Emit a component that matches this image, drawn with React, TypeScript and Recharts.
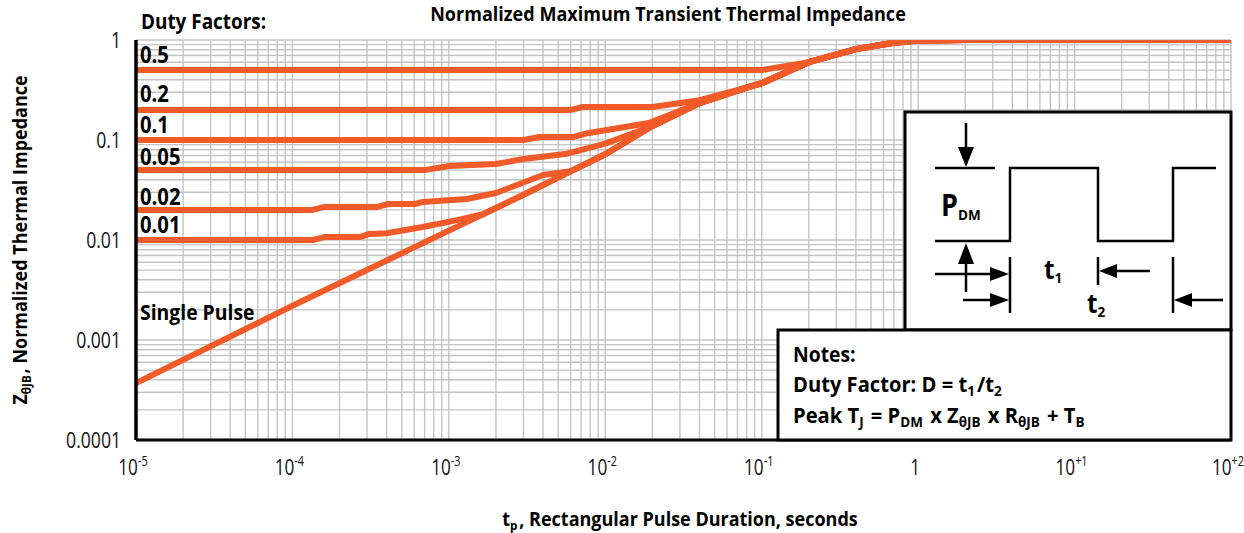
import React from "react";
import { LineChart, Line, XAxis, YAxis, CartesianGrid } from "recharts";

const ORANGE = "#f15a29";
const FONT = "'Open Sans', sans-serif";

// single pulse curve (t in seconds, Z normalized)
const spT = [1e-5, 1e-4, 1e-3, 3e-3, 6e-3, 1e-2, 2e-2, 4e-2, 8.1e-2, 0.1, 0.2, 0.4, 0.7, 1, 2, 100];
const spZ = [3.7e-4, 0.0022, 0.0124, 0.0283, 0.0486, 0.072, 0.138, 0.234, 0.336, 0.37, 0.6, 0.81, 0.94, 0.99, 1, 1];

// duty factor curves, up to where they join the single pulse curve
const d50T = [1e-5, 0.1, 0.2];
const d50Z = [0.5, 0.5, 0.6];
const d20T = [1e-5, 0.006, 0.0072, 0.02, 0.04, 0.081];
const d20Z = [0.2, 0.2, 0.214, 0.214, 0.25, 0.336];
const d10T = [1e-5, 0.003, 0.0038, 0.0062, 0.0077, 0.019, 0.04];
const d10Z = [0.1, 0.1, 0.107, 0.107, 0.117, 0.148, 0.234];
const d05T = [1e-5, 0.0007, 0.001, 0.002, 0.003, 0.0057, 0.01, 0.02];
const d05Z = [0.05, 0.05, 0.055, 0.0575, 0.0646, 0.073, 0.092, 0.138];
const d02T = [1e-5, 1.35e-4, 1.6e-4, 3.5e-4, 4.1e-4, 6.1e-4, 6.8e-4, 1.3e-3, 2e-3, 4e-3, 6e-3];
const d02Z = [0.02, 0.02, 0.0214, 0.0214, 0.0229, 0.0229, 0.024, 0.0257, 0.0295, 0.0447, 0.0486];
const d01T = [1e-5, 1.35e-4, 1.6e-4, 2.7e-4, 3.1e-4, 4e-4, 6.8e-4, 1.13e-3, 1.65e-3];
const d01Z = [0.01, 0.01, 0.0107, 0.0107, 0.0115, 0.0117, 0.0135, 0.0158, 0.0181];

// axes
const xDecades = [1e-5, 1e-4, 1e-3, 1e-2, 1e-1, 1, 10, 100];
const xBase = ["10", "10", "10", "10", "10", "1", "10", "10"];
const xSup = ["-5", "-4", "-3", "-2", "-1", "", "+1", "+2"];
const yDecades = [1e-4, 1e-3, 1e-2, 1e-1, 1];
const yLabels = ["0.0001", "0.001", "0.01", "0.1", "1"];

const minors = (decades: number[]) => {
  const out: number[] = [];
  decades.forEach((d, i) => {
    if (i === decades.length - 1) out.push(d);
    else for (let m = 1; m <= 9; m++) out.push(m * d);
  });
  return out;
};
const xTicks = minors(xDecades);
const yTicks = minors(yDecades);

const toPts = (t: number[], z: number[]) => t.map((v, i) => ({ t: v, z: z[i] }));
const single = toPts(spT, spZ);
const withTail = (t: number[], z: number[]) => {
  const last = t[t.length - 1];
  return [...toPts(t, z), ...single.filter((p) => p.t > last * 1.0001)];
};
const series = [
  withTail(d50T, d50Z),
  withTail(d20T, d20Z),
  withTail(d10T, d10Z),
  withTail(d05T, d05Z),
  withTail(d02T, d02Z),
  withTail(d01T, d01Z),
  single,
];

const near = (a: number, b: number) => Math.abs(Math.log10(a) - Math.log10(b)) < 1e-6;

const XTick = (props: any) => {
  const { x, y, payload } = props;
  const i = xDecades.findIndex((d) => near(d, payload.value));
  if (i < 0) return <g />;
  const tx = x - 3;
  return (
    <text x={tx} y={y + 35} textAnchor="middle" fontFamily={FONT} fontSize={22} fill="#111"
      transform={`translate(${tx} 0) scale(0.78 1) translate(${-tx} 0)`}>
      {xBase[i]}
      {xSup[i] && <tspan fontSize={14} dy={-9}>{xSup[i]}</tspan>}
    </text>
  );
};

const YTick = (props: any) => {
  const { x, y, payload } = props;
  const i = yDecades.findIndex((d) => near(d, payload.value));
  if (i < 0) return <g />;
  const tx = x - 15;
  return (
    <text x={tx} y={y + 8} textAnchor="end" fontFamily={FONT} fontSize={22} fill="#111"
      transform={`translate(${tx} 0) scale(0.8 1) translate(${-tx} 0)`}>
      {yLabels[i]}
    </text>
  );
};

function T({ x, y, size = 21, weight = 700, sx = 1, anchor = "start", rotate = 0, children }: any) {
  return (
    <g transform={`translate(${x},${y}) rotate(${rotate}) scale(${sx},1)`}>
      <text x={0} y={0} fontFamily={FONT} fontSize={size} fontWeight={weight} textAnchor={anchor} fill="#000">
        {children}
      </text>
    </g>
  );
}

const Sub = ({ children, size = 12, dy = 5 }: any) => (
  <>
    <tspan fontSize={size} dy={dy}>{children}</tspan>
    <tspan dy={-dy}>{"\u200a"}</tspan>
  </>
);

export default function App() {
  return (
    <div style={{ position: "absolute", left: 0, top: 0, width: 1244, height: 533, background: "#fff" }}>
      <LineChart width={1244} height={533} margin={{ top: 40, right: 13, bottom: 63, left: 76 }}>
        <CartesianGrid stroke="#c4c4c4" strokeWidth={1.4} />
        <XAxis dataKey="t" type="number" scale="log" domain={[1e-5, 100]} ticks={xTicks} interval={0}
          allowDataOverflow height={30} tickSize={0} tickMargin={0} tickLine={false}
          axisLine={{ stroke: "#000", strokeWidth: 3 }} tick={XTick} />
        <XAxis xAxisId="top" orientation="top" dataKey="t" type="number" scale="log" domain={[1e-5, 100]}
          allowDataOverflow height={0} tick={false} tickLine={false} axisLine={{ stroke: "#000", strokeWidth: 3 }} />
        <YAxis dataKey="z" type="number" scale="log" domain={[1e-4, 1]} ticks={yTicks} interval={0}
          allowDataOverflow width={60} tickSize={0} tickMargin={0} tickLine={false}
          axisLine={{ stroke: "#000", strokeWidth: 3.5 }} tick={YTick} />
        <YAxis yAxisId="right" orientation="right" dataKey="z" type="number" scale="log" domain={[1e-4, 1]}
          allowDataOverflow width={0} tick={false} tickLine={false} axisLine={{ stroke: "#000", strokeWidth: 3.5 }} />
        {series.map((d, i) => (
          <Line key={i} data={d} dataKey="z" type="linear" stroke={ORANGE} strokeWidth={6}
            dot={false} activeDot={false} isAnimationActive={false} strokeLinejoin="round" />
        ))}
      </LineChart>

      <svg width={1244} height={533} style={{ position: "absolute", left: 0, top: 0, pointerEvents: "none" }}>
        <T x={668} y={21} size={19} sx={0.95} anchor="middle">Normalized Maximum Transient Thermal Impedance</T>
        <T x={141} y={29} size={22} sx={0.86}>Duty Factors:</T>

        <T x={140} y={63} size={23} sx={0.88}>0.5</T>
        <T x={140} y={102} size={23} sx={0.88}>0.2</T>
        <T x={140} y={133} size={23} sx={0.88}>0.1</T>
        <T x={140} y={165} size={23} sx={0.88}>0.05</T>
        <T x={140} y={205} size={23} sx={0.88}>0.02</T>
        <T x={140} y={233} size={23} sx={0.88}>0.01</T>
        <T x={140} y={320} size={22} sx={0.88}>Single Pulse</T>

        <T x={27} y={240} size={20} sx={0.9} anchor="middle" rotate={-90}>
          Z<Sub size={13} dy={4}>θJB</Sub>, Normalized Thermal Impedance
        </T>
        <T x={680} y={526} size={20} sx={0.9} anchor="middle">
          t<Sub size={13} dy={4}>p</Sub>, Rectangular Pulse Duration, seconds
        </T>

        {/* pulse diagram */}
        <rect x={905} y={112} width={326} height={218} fill="#fff" stroke="#000" strokeWidth={3} />
        <polyline points="935,241 1010,241 1010,168 1098,168 1098,241 1173,241 1173,168 1216,168"
          fill="none" stroke="#000" strokeWidth={2.5} />
        <line x1={935} y1={168} x2={995} y2={168} stroke="#000" strokeWidth={2.5} />
        <line x1={966} y1={123} x2={966} y2={150} stroke="#000" strokeWidth={2.5} />
        <polygon points="958,147 974,147 966,167" fill="#000" />
        <line x1={966} y1={262} x2={966} y2={292} stroke="#000" strokeWidth={2.5} />
        <polygon points="958,264 974,264 966,243" fill="#000" />
        <line x1={1010} y1={257} x2={1010} y2={313} stroke="#000" strokeWidth={2.5} />
        <line x1={1098} y1={257} x2={1098} y2={285} stroke="#000" strokeWidth={2.5} />
        <line x1={1173} y1={257} x2={1173} y2={313} stroke="#000" strokeWidth={2.5} />
        <line x1={935} y1={274} x2={995} y2={274} stroke="#000" strokeWidth={2.5} />
        <polygon points="990,267 990,281 1009,274" fill="#000" />
        <line x1={963} y1={300} x2={995} y2={300} stroke="#000" strokeWidth={2.5} />
        <polygon points="990,293 990,307 1009,300" fill="#000" />
        <line x1={1112} y1={271} x2={1150} y2={271} stroke="#000" strokeWidth={2.5} />
        <polygon points="1117,264 1117,278 1099,271" fill="#000" />
        <line x1={1188} y1={300} x2={1223} y2={300} stroke="#000" strokeWidth={2.5} />
        <polygon points="1192,293 1192,307 1174,300" fill="#000" />
        <T x={941} y={216} size={30} sx={0.9}>P<Sub size={15} dy={4}>DM</Sub></T>
        <T x={1044} y={279} size={27} sx={0.9}>t<Sub size={15} dy={4}>1</Sub></T>
        <T x={1087} y={313} size={27} sx={0.9}>t<Sub size={15} dy={4}>2</Sub></T>

        {/* notes */}
        <rect x={778} y={330} width={453} height={110} fill="#fff" stroke="#000" strokeWidth={3} />
        <T x={793} y={362} size={21} sx={0.92}>Notes:</T>
        <T x={793} y={392} size={21} sx={0.96}>
          Duty Factor: D = t<Sub size={14} dy={4}>1</Sub>/t<Sub size={14} dy={4}>2</Sub>
        </T>
        <T x={793} y={423} size={21} sx={0.96}>
          Peak T<Sub size={14} dy={4}>J</Sub> = P<Sub size={14} dy={4}>DM</Sub> x Z<Sub size={14} dy={4}>θJB</Sub> x R
          <Sub size={14} dy={4}>θJB</Sub> + T<Sub size={14} dy={4}>B</Sub>
        </T>
      </svg>
    </div>
  );
}
